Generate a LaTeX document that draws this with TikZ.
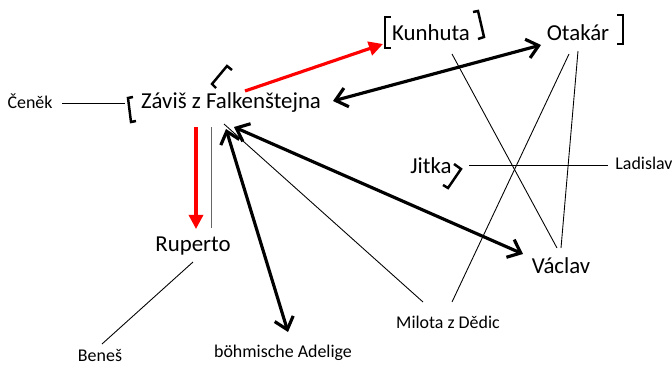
\documentclass[tikz,border=0pt]{standalone}
\usepackage{fontspec}
\setmainfont{Carlito}
\usetikzlibrary{arrows.meta}

\begin{document}
\begin{tikzpicture}[x=0.02cm, y=-0.02cm,
    person/.style={inner sep=0pt, font=\fontsize{13}{15}\selectfont},
    minor/.style={inner sep=0pt, font=\fontsize{10.2}{12}\selectfont},
    tie/.style={line width=0.5pt, black},
    greytie/.style={line width=0.5pt, black!60},
    redarrow/.style={-{Triangle[length=8pt,width=8pt]}, line width=1.8pt, red},
    bothways/.style={{Straight Barb[length=6.5pt,width=11pt]}-{Straight Barb[length=6.5pt,width=11pt]}, line width=1.8pt},
    bracket/.style={line width=1.4pt, line join=miter},
]
\useasboundingbox (0,0) rectangle (672,365);

% === Main persons ===
\node[person] (zavis) at (231,103) {Záviš z Falkenštejna};
\node[person] (kunhuta) at (431,33) {Kunhuta};
\node[person] (otakar) at (578,33) {Otakár};
\node[person] (jitka) at (431,166) {Jitka};
\node[person] (vaclav) at (561,266) {Václav};
\node[person] (ruperto) at (193,246) {Ruperto};

% === Minor persons ===
\node[minor] (cenek) at (30,101) {Čeněk};
\node[minor] (ladislav) at (644,163) {Ladislav};
\node[minor] (benes) at (100,356) {Beneš};
\node[minor] (adelige) at (283,353) {böhmische Adelige};
\node[minor] (milota) at (448,322) {Milota z Dědic};

% === Brackets ===
\draw[bracket] (133,97) -- (128,98) -- (131,122) -- (136,121);
\draw[bracket] (232,70) -- (227,66) -- (212,84) -- (216,88);
\draw[bracket] (391,17) -- (385,17) -- (385,48) -- (391,48);
\draw[bracket] (473,12) -- (478,11) -- (484,37) -- (478,39);
\draw[bracket] (617,15) -- (623,15) -- (623,44) -- (617,44);
\draw[bracket] (454,164) -- (461,169) -- (448,188) -- (443,185);

% === Thin ties ===
\draw[tie] ([shift={(32,2)}]cenek.center) -- ([shift={(-106,0)}]zavis.center);
\draw[greytie] ([shift={(-20,24)}]zavis.center) -- ([shift={(18,-18)}]ruperto.center);
\draw[tie] ([shift={(-7,21)}]zavis.center) -- ([shift={(-25,-20)}]milota.center);
\draw[tie] ([shift={(0,16)}]ruperto.center) -- ([shift={(2,-12)}]benes.center);
\draw[tie] ([shift={(21,21)}]kunhuta.center) -- ([shift={(-4,-18)}]vaclav.center);
\draw[tie] ([shift={(-9,21)}]otakar.center) -- ([shift={(4,-20)}]milota.center);
\draw[tie] ([shift={(0,18)}]otakar.center) -- ([shift={(0,-18)}]vaclav.center);
\draw[tie] ([shift={(38,-1)}]jitka.center) -- ([shift={(-36,2)}]ladislav.center);

% === Red arrows ===
\draw[redarrow] ([shift={(14,-12)}]zavis.center) -- ([shift={(-48,11)}]kunhuta.center);
\draw[redarrow] ([shift={(-35,24)}]zavis.center) -- ([shift={(3,-17)}]ruperto.center);

% === Black double arrows ===
\draw[bothways] ([shift={(102,-2)}]zavis.center) -- ([shift={(-37,12)}]otakar.center);
\draw[bothways] ([shift={(3,24)}]zavis.center) -- ([shift={(-38,-12)}]vaclav.center);
\draw[bothways] ([shift={(-5,26)}]zavis.center) -- ([shift={(5,-21)}]adelige.center);

\end{tikzpicture}
\end{document}
